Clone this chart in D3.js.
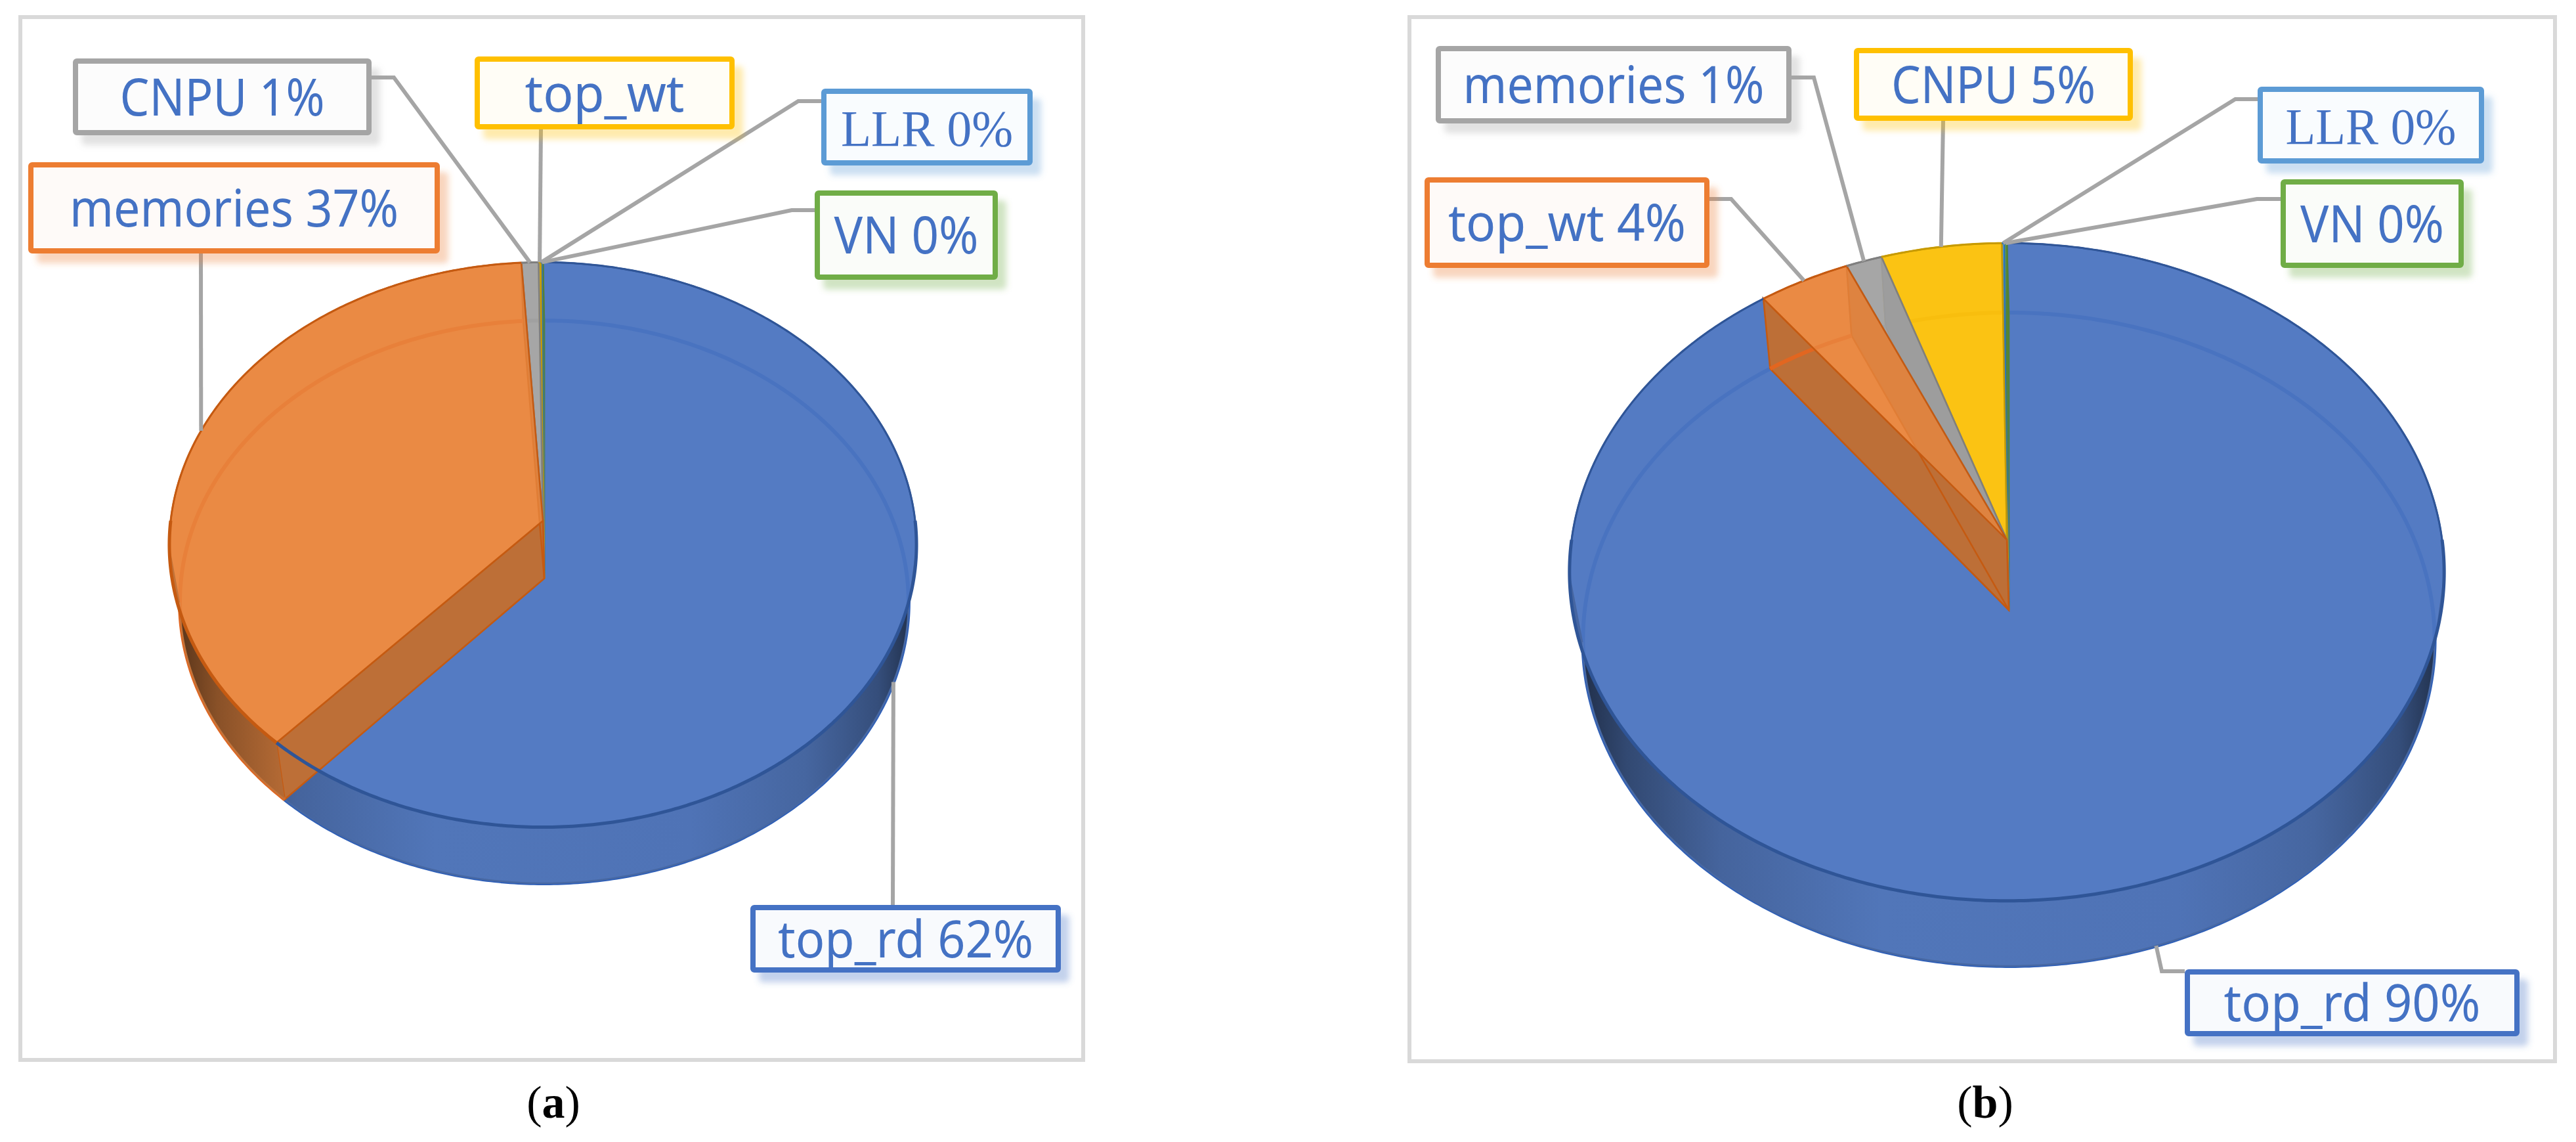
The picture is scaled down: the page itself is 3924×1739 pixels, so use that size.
<!DOCTYPE html>
<html>
<head>
<meta charset="utf-8">
<script src="https://cdnjs.cloudflare.com/ajax/libs/d3/7.8.5/d3.min.js"></script>
<style>
  html, body { margin: 0; padding: 0; background: #fff; }
  svg { display: block; }
</style>
</head>
<body>
<div id="chart"></div>
<script>
// data (tiny slices are estimated from their strip width)
var namesA = ["top_rd", "memories", "CNPU", "top_wt", "LLR", "VN"];
var valuesA = [61.7, 37.3, 0.8, 0.1, 0.05, 0.05];
var labelsA = ["top_rd 62%", "memories 37%", "CNPU 1%", "top_wt", "LLR 0%", "VN 0%"];

var namesB = ["top_rd", "top_wt", "memories", "CNPU", "LLR", "VN"];
var valuesB = [89.7, 3.73, 1.47, 4.9, 0.1, 0.1];
var labelsB = ["top_rd 90%", "top_wt 4%", "memories 1%", "CNPU 5%", "LLR 0%", "VN 0%"];

var svgWidth = 3924;
var svgHeight = 1739;

// colours go by slice position
var borderScale = d3.scaleOrdinal(d3.range(6), ["#4472c4", "#ed7d31", "#a5a5a5", "#ffc000", "#5b9bd5", "#70ad47"]);
var faceScale = d3.scaleOrdinal(d3.range(6), ["#557cc3", "#ea8a44", "#a6a6a6", "#fbc314", "#5b9bd5", "#70ad47"]);
var edgeScale = d3.scaleOrdinal(d3.range(6), ["#2f5597", "#c55a11", "#7f7f7f", "#c79a00", "#2e75b6", "#548235"]);
var ringScale = d3.scaleOrdinal(d3.range(6), ["#2e5fb8", "#e26620", "#8f8f8f", "#f0b000", "#2e75b6", "#548235"]);

// layout of the two panels
var panelA = {
    id: "a", names: namesA, values: valuesA, labels: labelsA,
    frame: {x: 31, y: 26, w: 1619, h: 1588},
    top: {cx: 827, cy: 793, rx: 567, ry: 427, p: 0.0848},
    bottom: {cx: 829, cy: 881, rx: 553, ry: 425.5, p: 0.083},
    caption: {x: 843, y: 1702},
    // x0, y0, x1, y1 of the box, text width, optional elbow and box anchor of the leader
    boxes: [
        {x0: 1143, y0: 1378, x1: 1616, y1: 1481, tw: 389, from: [1360, 1378]},
        {x0: 43, y0: 247, x1: 670, y1: 386, tw: 501, from: [306, 386]},
        {x0: 111, y0: 89, x1: 566, y1: 206, tw: 312, from: [566, 118], elbow: [600, 118]},
        {x0: 723, y0: 86, x1: 1119, y1: 197, tw: 243, from: [824, 197]},
        {x0: 1251, y0: 135, x1: 1573, y1: 252, tw: 262, from: [1251, 154], elbow: [1216, 154], serif: true},
        {x0: 1241, y0: 290, x1: 1520, y1: 426, tw: 220, from: [1241, 320], elbow: [1206, 320]}
    ]
};

var panelB = {
    id: "b", names: namesB, values: valuesB, labels: labelsB,
    frame: {x: 2147, y: 26, w: 1745, h: 1590},
    top: {cx: 3057, cy: 822, rx: 663, ry: 496, p: 0.0978},
    bottom: {cx: 3060, cy: 929, rx: 646, ry: 493.5, p: 0.0894},
    caption: {x: 3024, y: 1702},
    boxes: [
        {x0: 3328, y0: 1476, x1: 3838, y1: 1578, tw: 391, from: [3328, 1479], elbow: [3293, 1479]},
        {x0: 2170, y0: 270, x1: 2604, y1: 408, tw: 362, from: [2604, 303], elbow: [2637, 303]},
        {x0: 2187, y0: 70, x1: 2729, y1: 188, tw: 459, from: [2729, 118], elbow: [2763, 118]},
        {x0: 2824, y0: 73, x1: 3249, y1: 184, tw: 311, from: [2960, 184]},
        {x0: 3439, y0: 132, x1: 3784, y1: 249, tw: 260, from: [3439, 151], elbow: [3405, 151], serif: true},
        {x0: 3474, y0: 273, x1: 3753, y1: 408, tw: 219, from: [3474, 303], elbow: [3438, 303]}
    ]
};

var svg = d3.select("#chart")
    .append("svg")
    .attr("width", svgWidth)
    .attr("height", svgHeight);

var defs = svg.append("defs");

var line = d3.line();

// perspective projection of a rim point, angle clockwise from 12 o'clock
function project(e, angle, r) {
    var k = r === undefined ? 1 : r;
    var u = Math.sin(angle) * k;
    var v = -Math.cos(angle) * k;
    var w = 1 - e.p * v;
    return [e.cx + e.rx * u / w, e.cy + e.ry * v / w];
}

function arcPoints(e, a0, a1) {
    var n = Math.max(2, Math.ceil(Math.abs(a1 - a0) / 0.01));
    return d3.range(n + 1).map(function(i) {
        return project(e, a0 + (a1 - a0) * i / n);
    });
}

function drawPanel(panel) {
    var g = svg.append("g").attr("class", "panel-" + panel.id);

    g.append("rect")
        .attr("x", panel.frame.x).attr("y", panel.frame.y)
        .attr("width", panel.frame.w).attr("height", panel.frame.h)
        .attr("fill", "#fff")
        .attr("stroke", "#d9d9d9")
        .attr("stroke-width", 6);

    var pie = d3.pie().sort(null).startAngle(0).endAngle(2 * Math.PI);
    var arcs = pie(panel.values);
    var top = panel.top, bottom = panel.bottom;
    var apexTop = project(top, 0, 0);
    var apexBottom = project(bottom, 0, 0);

    // wall gradients, dark towards the silhouette
    arcs.forEach(function(d, i) {
        var base = d3.color(faceScale(i));
        var grad = defs.append("linearGradient")
            .attr("id", "wall-" + panel.id + "-" + i)
            .attr("gradientUnits", "userSpaceOnUse")
            .attr("x1", bottom.cx - bottom.rx).attr("y1", 0)
            .attr("x2", bottom.cx + bottom.rx).attr("y2", 0);
        [[0, 2.6], [0.05, 1.5], [0.16, 0.6], [0.35, 0.15], [0.7, 0.2], [0.86, 0.55], [0.96, 1.3], [1, 2.4]]
            .forEach(function(s) {
                grad.append("stop")
                    .attr("offset", s[0])
                    .attr("stop-color", base.darker(s[1]).formatHex());
            });
    });

    function topPath(d) {
        return line([apexTop].concat(arcPoints(top, d.startAngle, d.endAngle))) + "Z";
    }

    function drawBase(d) {
        g.append("path").attr("d", topPath(d)).attr("fill", faceScale(d.index));
    }

    // everything seen through the translucent top: floor, ring, cut faces, outer wall
    function drawUnder(d) {
        var i = d.index;
        var face = faceScale(i);
        g.append("path")
            .attr("d", line([apexBottom].concat(arcPoints(bottom, d.startAngle, d.endAngle))) + "Z")
            .attr("fill", face);

        [d.startAngle, d.endAngle].forEach(function(angle) {
            g.append("path")
                .attr("d", line([apexTop, project(top, angle), project(bottom, angle), apexBottom]) + "Z")
                .attr("fill", d3.color(face).darker(0.6).formatHex())
                .attr("stroke", edgeScale(i))
                .attr("stroke-width", 2.5);
        });

        g.append("path")
            .attr("d", line(arcPoints(bottom, d.startAngle, d.endAngle)))
            .attr("fill", "none")
            .attr("stroke", ringScale(i))
            .attr("stroke-width", 6);

        var lo = Math.PI / 2 + Math.asin(top.p);
        var hi = 3 * Math.PI / 2 - Math.asin(top.p);
        var a0 = Math.max(d.startAngle, lo);
        var a1 = Math.min(d.endAngle, hi);
        if (a1 > a0) {
            var outer = arcPoints(top, a0, a1).concat(arcPoints(bottom, a0, a1).reverse());
            g.append("path")
                .attr("d", line(outer) + "Z")
                .attr("fill", "url(#wall-" + panel.id + "-" + i + ")");
            g.append("path")
                .attr("d", line(arcPoints(bottom, a0, a1)))
                .attr("fill", "none")
                .attr("stroke", d3.color(face).darker(0.5).formatHex())
                .attr("stroke-width", 2.5);
        }
    }

    function drawGlass(d) {
        g.append("path")
            .attr("d", topPath(d))
            .attr("fill", faceScale(d.index))
            .attr("fill-opacity", 0.72)
            .attr("stroke", edgeScale(d.index))
            .attr("stroke-width", 2.5);
    }

    function passes(list) {
        list.forEach(drawBase);
        list.forEach(drawUnder);
        list.forEach(drawGlass);
    }

    // biggest slice first, then the others back to front
    passes([arcs[0]]);
    passes(arcs.slice(1).reverse());

    // the rim stays on top of everything, heavier along the front
    arcs.forEach(function(d) {
        g.append("path")
            .attr("d", line(arcPoints(top, d.startAngle, d.endAngle)))
            .attr("fill", "none")
            .attr("stroke", edgeScale(d.index))
            .attr("stroke-width", 3);
        var a0 = Math.max(d.startAngle, Math.PI / 2);
        var a1 = Math.min(d.endAngle, 3 * Math.PI / 2);
        if (a1 > a0) {
            g.append("path")
                .attr("d", line(arcPoints(top, a0, a1)))
                .attr("fill", "none")
                .attr("stroke", edgeScale(d.index))
                .attr("stroke-width", 5);
        }
    });

    // leader lines end on the rim at the middle of the slice
    arcs.forEach(function(d, i) {
        var box = panel.boxes[i];
        var mid = (d.startAngle + d.endAngle) / 2;
        var end = project(Math.cos(mid) < 0 ? bottom : top, mid);
        var pts = [box.from];
        if (box.elbow) pts.push(box.elbow);
        pts.push(end);
        g.append("path")
            .attr("d", line(pts))
            .attr("fill", "none")
            .attr("stroke", "#a5a5a5")
            .attr("stroke-width", 6);
    });

    // label boxes
    arcs.forEach(function(d, i) {
        var box = panel.boxes[i];
        var col = borderScale(i);
        var shadowFilter = "boxShadow-" + panel.id + "-" + i;
        var f = defs.append("filter")
            .attr("id", shadowFilter)
            .attr("x", "-10%").attr("y", "-20%")
            .attr("width", "125%").attr("height", "150%");
        f.append("feDropShadow")
            .attr("dx", 13).attr("dy", 15)
            .attr("stdDeviation", 5)
            .attr("flood-color", col)
            .attr("flood-opacity", 0.32);

        g.append("rect")
            .attr("x", box.x0 + 4).attr("y", box.y0 + 4)
            .attr("width", box.x1 - box.x0 - 8)
            .attr("height", box.y1 - box.y0 - 8)
            .attr("rx", 2)
            .attr("fill", d3.interpolateRgb("#ffffff", col)(0.035))
            .attr("stroke", col)
            .attr("stroke-width", 8)
            .attr("filter", "url(#" + shadowFilter + ")");

        g.append("text")
            .attr("x", (box.x0 + box.x1) / 2)
            .attr("y", (box.y0 + box.y1) / 2 + 28)
            .attr("text-anchor", "middle")
            .attr("font-family", box.serif ? "'Liberation Serif', serif" : "'Noto Sans', sans-serif")
            .attr("font-size", box.serif ? 78 : 78)
            .attr("textLength", box.tw)
            .attr("lengthAdjust", "spacingAndGlyphs")
            .attr("fill", "#4472c4")
            .text(panel.labels[i]);
    });

    // caption, only the letter is bold
    var cap = g.append("text")
        .attr("x", panel.caption.x)
        .attr("y", panel.caption.y)
        .attr("text-anchor", "middle")
        .attr("font-family", "'Liberation Serif', serif")
        .attr("font-size", 70)
        .attr("fill", "#000");
    cap.append("tspan").text("(");
    cap.append("tspan").attr("font-weight", "bold").text(panel.id);
    cap.append("tspan").text(")");
}

drawPanel(panelA);
drawPanel(panelB);
</script>
</body>
</html>
